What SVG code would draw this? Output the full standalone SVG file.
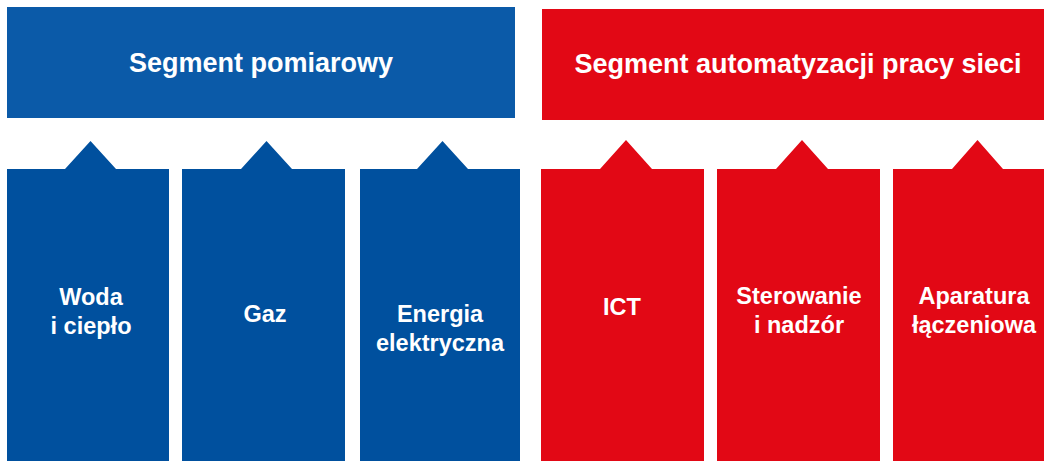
<svg xmlns="http://www.w3.org/2000/svg" width="1044" height="461" viewBox="0 0 1044 461">
<style>
.hb{fill:#0B5AA8}
.bb{fill:#00509E}
.rd{fill:#E20815}
.ht{font-family:"Liberation Sans",Arial,sans-serif;font-weight:bold;font-size:27px;fill:#fff;text-anchor:middle}
.bt{font-family:"Liberation Sans",Arial,sans-serif;font-weight:bold;font-size:23.5px;fill:#fff;text-anchor:middle}
</style>
<rect width="1044" height="461" fill="#fff"/>
<g id="seg-pomiarowy">
<rect class="hb" x="7" y="7" width="508" height="111"/>
<text class="ht" x="261" y="72">Segment pomiarowy</text>
</g>
<g id="seg-automatyzacji">
<rect class="rd" x="542" y="9" width="502" height="111"/>
<text class="ht" x="798" y="73">Segment automatyzacji pracy sieci</text>
</g>
<g id="connectors"></g>
<g id="woda">
<path class="bb" d="M7,169 H65 L90.5,141 L116,169 H169 V461 H7 Z"/>
<text class="bt" x="91" y="305">Woda</text>
<text class="bt" x="91" y="334">i ciepło</text>
</g>
<g id="gaz">
<path class="bb" d="M182,169 H241 L266.5,141 L292,169 H345 V461 H182 Z"/>
<text class="bt" x="265" y="322">Gaz</text>
</g>
<g id="energia">
<path class="bb" d="M360,169 H417 L442.5,141 L468,169 H520 V461 H360 Z"/>
<text class="bt" x="440" y="322">Energia</text>
<text class="bt" x="440" y="351">elektryczna</text>
</g>
<g id="ict">
<path class="rd" d="M541,169 H600 L626,140 L652,169 H704 V461 H541 Z"/>
<text class="bt" x="622" y="315">ICT</text>
</g>
<g id="sterowanie">
<path class="rd" d="M717,169 H776 L802,140 L828,169 H880 V461 H717 Z"/>
<text class="bt" x="799" y="304">Sterowanie</text>
<text class="bt" x="799" y="333">i nadzór</text>
</g>
<g id="aparatura">
<path class="rd" d="M893,169 H952 L977.5,140 L1003,169 H1044 V461 H893 Z"/>
<text class="bt" x="974" y="304">Aparatura</text>
<text class="bt" x="974" y="333">łączeniowa</text>
</g>
</svg>
